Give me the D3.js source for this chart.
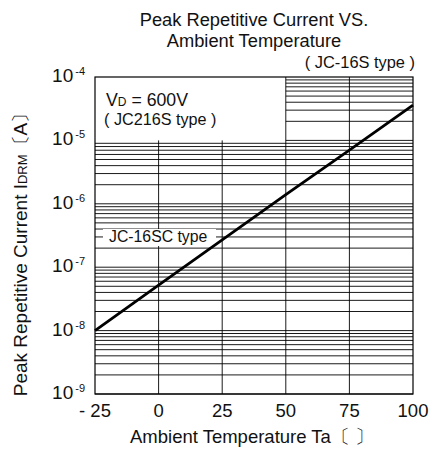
<!DOCTYPE html>
<html>
<head>
<meta charset="utf-8">
<script src="https://cdn.jsdelivr.net/npm/d3@7"></script>
<style>
  body { margin: 0; background: #fff; }
  text { font-family: "Liberation Sans", Arial, sans-serif; fill: #111; }
</style>
</head>
<body>
<div id="chart"></div>
<script>
// data
var temps = [-25, 0, 25, 50, 75, 100];
var current = [1e-8, 5.2e-8, 2.7e-7, 1.4e-6, 7e-6, 3.6e-5];
var xTicks = [-25, 0, 25, 50, 75, 100];
var xTickLabels = ["- 25", "0", "25", "50", "75", "100"];
var yExponents = [-4, -5, -6, -7, -8, -9];

var svgWidth = 437;
var svgHeight = 455;

var svg = d3.select("#chart")
  .append("svg")
  .attr("width", svgWidth)
  .attr("height", svgHeight);

var xScale = d3.scaleLinear().domain([-25, 100]).range([95, 413]);
var yScale = d3.scaleLog().domain([1e-9, 1e-4]).range([394, 77]);

var grid = svg.append("g").attr("stroke", "#000").attr("stroke-width", 0.9);

// horizontal grid: every 1..9 x 10^e
for (var e = -9; e <= -5; e++) {
  for (var k = 1; k <= 9; k++) {
    var v = k * Math.pow(10, e);
    var x0 = e === -5 ? xScale(50) : xScale(-25);
    grid.append("line")
      .attr("x1", x0).attr("x2", xScale(100))
      .attr("y1", yScale(v)).attr("y2", yScale(v));
  }
}

// vertical grid
xTicks.slice(1, -1).forEach(function(t) {
  var top = t >= 50 ? yScale(1e-4) : yScale(1e-5);
  grid.append("line")
    .attr("x1", xScale(t)).attr("x2", xScale(t))
    .attr("y1", yScale(1e-9)).attr("y2", top);
});

// frame
svg.append("rect")
  .attr("x", xScale(-25)).attr("y", yScale(1e-4))
  .attr("width", xScale(100) - xScale(-25))
  .attr("height", yScale(1e-9) - yScale(1e-4))
  .attr("fill", "none").attr("stroke", "#000").attr("stroke-width", 1.2);

// label with white background
svg.append("rect")
  .attr("x", 103).attr("y", 229).attr("width", 113).attr("height", 17)
  .attr("fill", "#fff");
svg.append("text")
  .attr("x", 109).attr("y", 242)
  .attr("font-size", 15.8)
  .text("JC-16SC type");

// curve
var line = d3.line()
  .x(function(d, i) { return xScale(temps[i]); })
  .y(function(d) { return yScale(d); });

svg.append("path")
  .datum(current)
  .attr("d", line)
  .attr("fill", "none")
  .attr("stroke", "#000")
  .attr("stroke-width", 2.8);

// x tick labels
svg.selectAll(".xtick")
  .data(xTicks)
  .enter()
  .append("text")
  .attr("class", "xtick")
  .attr("x", function(d) { return xScale(d); })
  .attr("y", 417)
  .attr("text-anchor", "middle")
  .attr("font-size", 18.5)
  .text(function(d, i) { return xTickLabels[i]; });

// y tick labels
var yt = svg.selectAll(".ytick")
  .data(yExponents)
  .enter()
  .append("text")
  .attr("class", "ytick")
  .attr("x", 85)
  .attr("y", function(d) { return yScale(Math.pow(10, d)) + 5; })
  .attr("text-anchor", "end")
  .attr("font-size", 19);
yt.append("tspan").text("10");
yt.append("tspan")
  .attr("font-size", 11)
  .attr("dy", -7)
  .attr("dx", 2)
  .text(function(d) { return "-" + Math.abs(d); });

// title
svg.append("text")
  .attr("x", 254).attr("y", 26)
  .attr("text-anchor", "middle")
  .attr("font-size", 18.3)
  .text("Peak Repetitive Current VS.");
svg.append("text")
  .attr("x", 254).attr("y", 47)
  .attr("text-anchor", "middle")
  .attr("font-size", 18.3)
  .text("Ambient Temperature");

svg.append("text")
  .attr("x", 415).attr("y", 68)
  .attr("text-anchor", "end")
  .attr("font-size", 16.4)
  .text("( JC-16S type )");

// VD annotation
var vd = svg.append("text")
  .attr("x", 106).attr("y", 106)
  .attr("font-size", 17.7);
vd.append("tspan").text("V");
vd.append("tspan").attr("font-size", 12).text("D");
vd.append("tspan").text(" = 600V");

svg.append("text")
  .attr("x", 104).attr("y", 125)
  .attr("font-size", 16.2)
  .text("( JC216S type )");

// axis titles
svg.append("text")
  .attr("x", 252).attr("y", 443)
  .attr("text-anchor", "middle")
  .attr("font-size", 18.5)
  .text("Ambient Temperature Ta〔      〕");

var yl = svg.append("text")
  .attr("transform", "translate(27, 250) rotate(-90)")
  .attr("text-anchor", "middle")
  .attr("font-size", 19);
yl.append("tspan").text("Peak Repetitive Current I");
yl.append("tspan").attr("font-size", 13).text("DRM");
yl.append("tspan").text("〔A〕");
</script>
</body>
</html>
